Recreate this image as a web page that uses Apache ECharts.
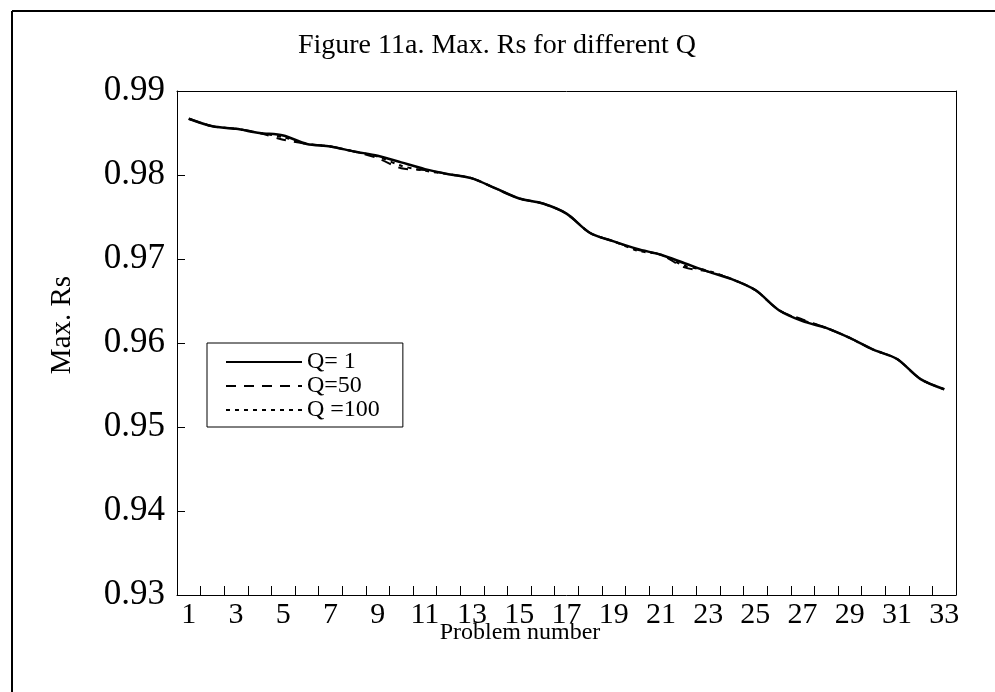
<!DOCTYPE html>
<html>
<head>
<meta charset="utf-8">
<title>Figure 11a</title>
<script src="https://cdn.jsdelivr.net/npm/echarts@6/dist/echarts.min.js"></script>
<style>
  html, body { margin: 0; padding: 0; background: #fff; }
  #chart { width: 995px; height: 692px; }
</style>
</head>
<body>
<div id="chart"></div>
<script>
// problem numbers 1..33
const problems = ['1','2','3','4','5','6','7','8','9','10','11','12','13','14','15','16','17',
  '18','19','20','21','22','23','24','25','26','27','28','29','30','31','32','33'];

// Max. Rs
const q1 = [0.9867, 0.9858, 0.9855, 0.9850, 0.9847, 0.9837, 0.9834, 0.9828, 0.9823, 0.9815,
  0.9807, 0.9801, 0.9796, 0.9784, 0.9772, 0.9766, 0.9754, 0.9731, 0.9721, 0.9712,
  0.9705, 0.9695, 0.9685, 0.9676, 0.9663, 0.9639, 0.9626, 0.9618, 0.9606, 0.9592,
  0.9581, 0.9557, 0.9545];
const q50 = [0.9867, 0.9858, 0.9855, 0.9850, 0.9842, 0.9837, 0.9834, 0.9828, 0.9820, 0.9808,
  0.9806, 0.9801, 0.9796, 0.9784, 0.9772, 0.9766, 0.9754, 0.9731, 0.9721, 0.9711,
  0.9705, 0.9690, 0.9685, 0.9676, 0.9663, 0.9639, 0.9628, 0.9618, 0.9606, 0.9592,
  0.9581, 0.9557, 0.9545];
const q100 = [0.9867, 0.9858, 0.9855, 0.9850, 0.9845, 0.9837, 0.9834, 0.9828, 0.9822, 0.9811,
  0.9805, 0.9801, 0.9796, 0.9784, 0.9772, 0.9766, 0.9754, 0.9731, 0.9721, 0.9710,
  0.9705, 0.9692, 0.9686, 0.9676, 0.9663, 0.9639, 0.9627, 0.9618, 0.9606, 0.9592,
  0.9581, 0.9557, 0.9545];

const seriesNames = ['Q= 1', 'Q=50', 'Q =100'];

const font = 'Liberation Serif';
const chart = echarts.init(document.getElementById('chart'));

// frame-only axis (top / right sides of the plot box)
const frameAxis = {
  axisLine: { show: true, onZero: false, lineStyle: { color: '#000', width: 1 } },
  axisTick: { show: false },
  axisLabel: { show: false },
  splitLine: { show: false }
};

const option = {
  backgroundColor: '#fff',
  animation: false,
  title: {
    text: 'Figure 11a. Max. Rs for different Q',
    left: 492,
    textAlign: 'center',
    top: 27,
    textStyle: { fontFamily: font, fontSize: 28, fontWeight: 'normal', color: '#000' }
  },
  legend: {
    data: seriesNames,
    orient: 'vertical',
    left: 207,
    top: 343,
    itemWidth: 76,
    itemHeight: 14,
    itemGap: 0,
    padding: [7, 23, 5, 18],
    borderColor: '#000',
    borderWidth: 1,
    itemStyle: { opacity: 0 },
    textStyle: { fontFamily: font, fontSize: 24, color: '#000' }
  },
  grid: {
    left: 177,
    top: 91,
    width: 779,
    height: 504
  },
  xAxis: [
    {
      type: 'category',
      data: problems,
      boundaryGap: true,
      position: 'bottom',
      axisLine: { onZero: false, lineStyle: { color: '#000', width: 1 } },
      axisTick: { show: true, inside: true, length: 9, interval: 0, lineStyle: { color: '#000', width: 1 } },
      axisLabel: { interval: 1, margin: 5, fontFamily: font, fontSize: 30, color: '#000' }
    },
    Object.assign({ type: 'category', data: problems, position: 'top' }, frameAxis)
  ],
  yAxis: [
    {
      type: 'value',
      min: 0.93,
      max: 0.99,
      interval: 0.01,
      position: 'left',
      splitLine: { show: false },
      axisLine: { show: true, onZero: false, lineStyle: { color: '#000', width: 1 } },
      axisTick: { show: true, inside: true, length: 8, lineStyle: { color: '#000', width: 1 } },
      axisLabel: {
        margin: 12,
        fontFamily: font,
        fontSize: 35,
        color: '#000',
        formatter: v => v.toFixed(2)
      }
    },
    Object.assign({ type: 'value', min: 0.93, max: 0.99, interval: 0.01, position: 'right' }, frameAxis)
  ],
  graphic: [
    { type: 'line', shape: { x1: 12, y1: 11, x2: 995, y2: 11 }, style: { stroke: '#000', lineWidth: 2 } },
    { type: 'line', shape: { x1: 12, y1: 11, x2: 12, y2: 692 }, style: { stroke: '#000', lineWidth: 2 } },
    {
      type: 'text',
      x: 62,
      y: 325,
      rotation: Math.PI / 2,
      style: {
        text: 'Max. Rs',
        fontFamily: font,
        fontSize: 29,
        fill: '#000',
        textAlign: 'center',
        textVerticalAlign: 'middle'
      }
    },
    {
      type: 'text',
      x: 520,
      y: 633,
      style: {
        text: 'Problem number',
        fontFamily: font,
        fontSize: 24,
        fill: '#000',
        textAlign: 'center',
        textVerticalAlign: 'middle'
      }
    }
  ],
  series: [
    {
      name: 'Q=50', type: 'line', data: q50, smooth: 0.3, symbol: 'none',
      lineStyle: { color: '#000', width: 2, type: [10, 8] }, itemStyle: { color: '#000' }
    },
    {
      name: 'Q =100', type: 'line', data: q100, smooth: 0.3, symbol: 'none',
      lineStyle: { color: '#000', width: 2, type: [4, 5] }, itemStyle: { color: '#000' }
    },
    {
      name: 'Q= 1', type: 'line', data: q1, smooth: 0.3, symbol: 'none',
      lineStyle: { color: '#000', width: 2.5 }, itemStyle: { color: '#000' }
    }
  ]
};

chart.setOption(option);
</script>
</body>
</html>
